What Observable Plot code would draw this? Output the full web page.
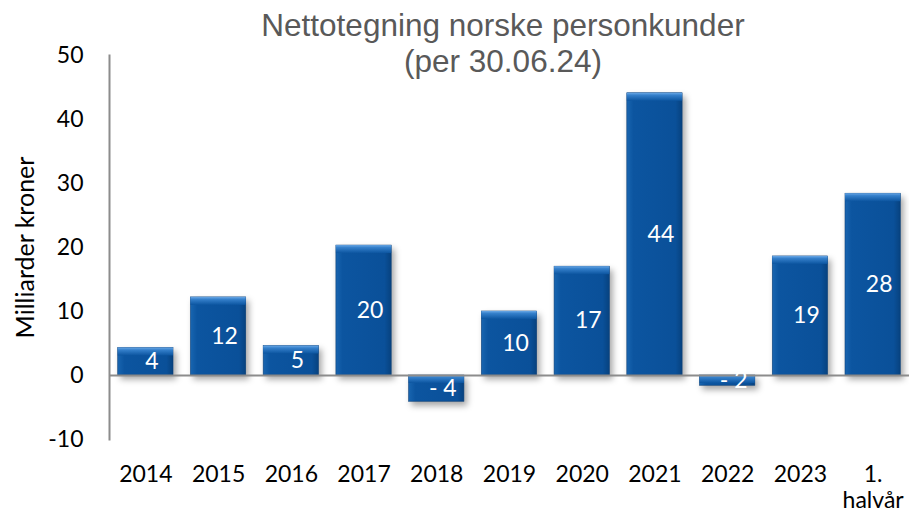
<!DOCTYPE html>
<html>
<head>
<meta charset="utf-8">
<script src="https://cdn.jsdelivr.net/npm/d3@7"></script>
<script src="https://cdn.jsdelivr.net/npm/@observablehq/plot@0.6"></script>
<style>
  html, body { margin: 0; padding: 0; background: #fff; }
  #wrap { position: relative; width: 909px; height: 516px; }
  #title {
    position: absolute; left: 153px; width: 700px; top: 7px;
    text-align: center; font-family: "Liberation Sans", Arial, sans-serif;
    font-size: 31.5px; line-height: 36px; color: #595959; pointer-events: none;
  }
</style>
</head>
<body>
<div id="wrap">
  <div id="chart"></div>
  <div id="title">Nettotegning norske personkunder<br>(per 30.06.24)</div>
</div>
<script>
const categories = ["2014", "2015", "2016", "2017", "2018", "2019", "2020", "2021", "2022", "2023", "1. halvår"];
const values = [4.3, 12.2, 4.6, 20.3, -4.1, 10.0, 17.0, 44.1, -1.6, 18.6, 28.4];
const valueLabels = ["4", "12", "5", "20", "- 4", "10", "17", "44", "- 2", "19", "28"];
const yTicks = [-10, 0, 10, 20, 30, 40, 50];
const yLabel = "Milliarder kroner";

const rows = categories.map((c, i) => ({cat: c, value: values[i], label: valueLabels[i]}));

const defs = () => {
  const d = d3.create("svg:defs");
  const g1 = d.append("linearGradient").attr("id", "barGrad").attr("x1", 0).attr("x2", 1).attr("y1", 0).attr("y2", 0);
  g1.append("stop").attr("offset", "0%").attr("stop-color", "#1865b0");
  g1.append("stop").attr("offset", "12%").attr("stop-color", "#0c55a0");
  g1.append("stop").attr("offset", "88%").attr("stop-color", "#0a5099");
  g1.append("stop").attr("offset", "100%").attr("stop-color", "#07427f");
  const g2 = d.append("linearGradient").attr("id", "bevelGrad").attr("x1", 0).attr("x2", 0).attr("y1", 0).attr("y2", 1);
  g2.append("stop").attr("offset", "0%").attr("stop-color", "#6aa8e6");
  g2.append("stop").attr("offset", "30%").attr("stop-color", "#3580cb");
  g2.append("stop").attr("offset", "100%").attr("stop-color", "#0c55a0");
  return d.node();
};

const chart = Plot.plot({
  width: 909,
  height: 516,
  marginLeft: 109,
  marginRight: 0,
  marginTop: 55,
  marginBottom: 77,
  style: {fontFamily: "Lato, sans-serif", fontSize: "23px", color: "#000", background: "transparent"},
  x: {domain: categories, paddingInner: 0.24, paddingOuter: 0.12, round: false, label: null},
  y: {domain: [-10, 50], label: null},
  marks: [
    defs,
    Plot.barY(rows, {x: "cat", y: "value", fill: "url(#barGrad)", stroke: "#0a3f78", strokeWidth: 0.6}),
    Plot.barY(rows, {x: "cat", y1: d => Math.max(d.value, 0), y2: d => Math.max(d.value, 0), insetBottom: -8, fill: "url(#bevelGrad)"}),
    Plot.ruleY([0], {stroke: "#8c8c8c", strokeWidth: 2}),
    Plot.frame({anchor: "left", stroke: "#8c8c8c", strokeWidth: 2}),
    Plot.text(rows, {x: "cat", y: d => d.value / 2, text: "label", fill: "white", dx: 6, fontSize: 23}),
    Plot.axisY({ticks: yTicks, tickSize: 0, tickPadding: 26, label: null, tickFormat: d => String(d)}),
    Plot.axisX({tickSize: 0, tickPadding: 24, label: null, lineHeight: 1.12, tickFormat: d => d.replace(" ", "\n")}),
    Plot.text([yLabel], {frameAnchor: "left", rotate: -90, dx: -84, textAnchor: "middle", lineAnchor: "middle", fontSize: 25, fill: "#000"})
  ]
});

const barGroups = chart.querySelectorAll('g[aria-label="bar"]');
if (barGroups[0]) barGroups[0].style.filter = "drop-shadow(3px 4px 3px rgba(0,0,0,0.35))";
document.getElementById("chart").appendChild(chart);
</script>
</body>
</html>
